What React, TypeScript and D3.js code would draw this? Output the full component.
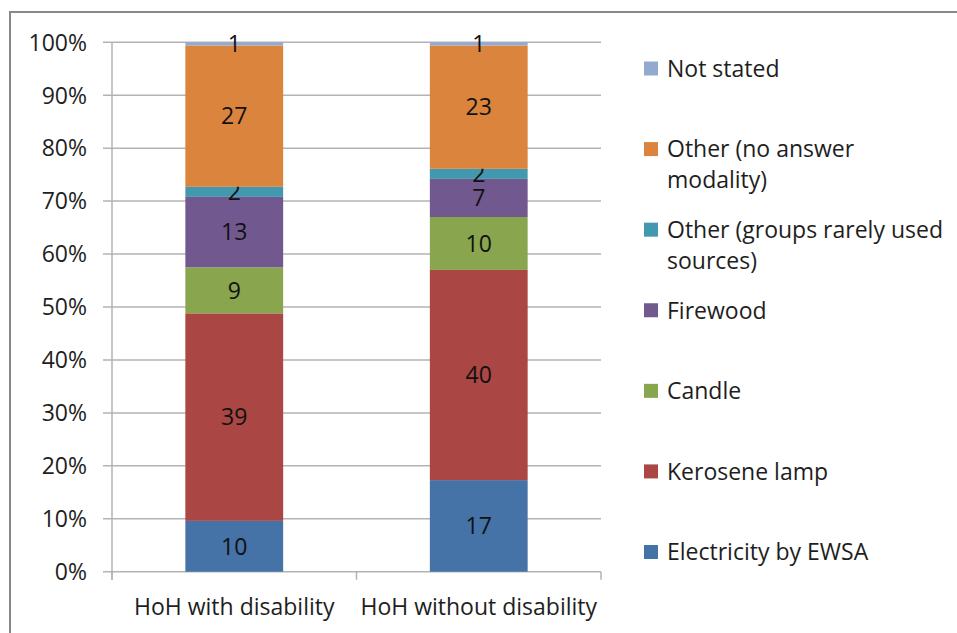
import React from 'react';
import * as d3 from 'd3';

const categories = ['HoH with disability', 'HoH without disability'];
const seriesNames = [
  'Electricity by EWSA',
  'Kerosene lamp',
  'Candle',
  'Firewood',
  'Other (groups rarely used sources)',
  'Other (no answer modality)',
  'Not stated',
];
const seriesColors = ['#4572a7', '#aa4643', '#89a54e', '#71588f', '#4198af', '#db843d', '#93a9cf'];
// percentages per series, one per category
const electricity = [9.6, 17.3];
const kerosene = [39.2, 39.7];
const candle = [8.7, 10.0];
const firewood = [13.3, 7.2];
const otherGroups = [1.9, 1.9];
const otherNoAnswer = [26.7, 23.3];
const notStated = [0.6, 0.6];
const legendLines = [
  ['Not stated'],
  ['Other (no answer', 'modality)'],
  ['Other (groups rarely used', 'sources)'],
  ['Firewood'],
  ['Candle'],
  ['Kerosene lamp'],
  ['Electricity by EWSA'],
];
const yTicks = [0, 10, 20, 30, 40, 50, 60, 70, 80, 90, 100];

const FONT = '"Open Sans", sans-serif';
const FS = 23;

const App: React.FC = () => {
  const width = 957;
  const height = 633;
  const plot = { left: 112, right: 601, top: 42.3, bottom: 571.7 };

  const values = [electricity, kerosene, candle, firewood, otherGroups, otherNoAnswer, notStated];
  const rows = categories.map((c, i) => {
    const r: any = { cat: c };
    seriesNames.forEach((s, j) => (r[s] = values[j][i]));
    return r;
  });
  const stacked = d3.stack<any>().keys(seriesNames).offset(d3.stackOffsetExpand)(rows);

  const x = d3.scaleBand().domain(categories).range([plot.left, plot.right]);
  const y = d3.scaleLinear().domain([0, 1]).range([plot.bottom, plot.top]);
  const barW = x.bandwidth() * 0.4;
  const legendY = d3.scaleLinear().domain([0, 6]).range([68.5, 552]);

  return (
    <div style={{ position: 'fixed', left: 0, top: 0 }}>
      <svg width={width} height={height} style={{ display: 'block', background: '#fff' }}>
        <line x1={10} x2={957} y1={12} y2={12} stroke="#888" strokeWidth={2} />
        <line x1={10} x2={10} y1={11} y2={633} stroke="#888" strokeWidth={2} />

        {yTicks.map((t) => (
          <g key={t}>
            <line x1={103} x2={plot.right} y1={y(t / 100)} y2={y(t / 100)} stroke="#b3b3b3" strokeWidth={1.5} />
            <text x={87} y={y(t / 100)} dy="0.36em" textAnchor="end" fontFamily={FONT} fontSize={FS} fill="#1e1e1e">
              {t}%
            </text>
          </g>
        ))}
        <line x1={plot.left} x2={plot.left} y1={plot.top} y2={plot.bottom + 8} stroke="#b3b3b3" strokeWidth={1.5} />
        {[...categories.map((c) => x(c) as number), plot.right].map((px, i) => (
          <line key={i} x1={px} x2={px} y1={plot.bottom} y2={plot.bottom + 8} stroke="#b3b3b3" strokeWidth={1.5} />
        ))}

        {stacked.map((layer, si) => (
          <g key={layer.key}>
            {layer.map((d, ci) => {
              const cx = (x(categories[ci]) as number) + x.bandwidth() / 2;
              const y0 = y(d[0]);
              const y1 = y(d[1]);
              return (
                <g key={ci}>
                  <rect x={cx - barW / 2} y={y1} width={barW} height={y0 - y1} fill={seriesColors[si]} />
                  <text
                    x={cx}
                    y={(y0 + y1) / 2}
                    dy="0.36em"
                    textAnchor="middle"
                    fontFamily={FONT}
                    fontSize={FS}
                    fill="#111"
                  >
                    {Math.round(values[si][ci])}
                  </text>
                </g>
              );
            })}
          </g>
        ))}

        {categories.map((c) => (
          <text
            key={c}
            x={(x(c) as number) + x.bandwidth() / 2}
            y={607}
            dy="0.36em"
            textAnchor="middle"
            fontFamily={FONT}
            fontSize={FS}
            fill="#1e1e1e"
          >
            {c}
          </text>
        ))}

        {legendLines.map((lines, i) => {
          const si = seriesNames.length - 1 - i;
          const ly = legendY(i);
          return (
            <g key={i}>
              <rect x={644} y={ly - 7} width={14} height={14} fill={seriesColors[si]} />
              {lines.map((l, k) => (
                <text key={k} x={667} y={ly + k * 31} dy="0.36em" fontFamily={FONT} fontSize={FS} fill="#1e1e1e">
                  {l}
                </text>
              ))}
            </g>
          );
        })}
      </svg>
    </div>
  );
};

export default App;
